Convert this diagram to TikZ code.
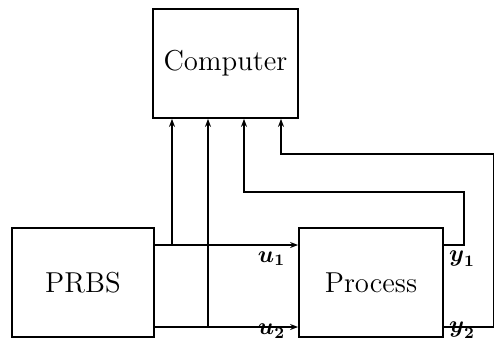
\documentclass[tikz,border=0pt]{standalone}
\usepackage{amsmath}
\usepackage{amssymb}
\usepackage{tikz}
\usetikzlibrary{arrows.meta}

\tikzset{
  blk/.style={draw, line width=0.9pt, minimum width=72pt, minimum height=54.5pt, font=\Large},
  sig/.style={line width=0.7pt},
  siglabel/.style={font=\large, inner sep=0pt}
}

\begin{document}
\begin{tikzpicture}[x=0.5pt, y=-0.5pt, >={Stealth[length=4pt,width=3pt]}]
\useasboundingbox (0,0) rectangle (494,339);
% blocks
\node[blk, minimum width=72.5pt] (comp) at (225.5,63.5) {Computer};
\node[blk, minimum width=71pt] (prbs) at (83,282.5) {PRBS};
\node[blk] (proc) at (371,282.5) {Process};
% signal levels
\coordinate (r1) at (0,245);
\coordinate (r2) at (0,327);
\coordinate (tap1) at (172,245);
\coordinate (tap2) at (208,327);
\coordinate (in3) at (244,0);
\coordinate (in4) at (281,0);
\coordinate (bend1) at (464,192);
\coordinate (bend2) at (493.5,154);
% inputs
\draw[sig, ->] (prbs.east |- r1) -- (proc.west |- r1);
\draw[sig, ->] (prbs.east |- r2) -- (proc.west |- r2);
\draw[sig, ->] (tap1) -- (tap1 |- comp.south);
\draw[sig, ->] (tap2) -- (tap2 |- comp.south);
% outputs fed back
\draw[sig, ->] (proc.east |- r1) -| (bend1) -| (in3 |- comp.south);
\draw[sig, ->] (proc.east |- r2) -| (bend2) -| (in4 |- comp.south);
% labels
\node[siglabel, anchor=north] (lu1) at (271.5,251) {$\boldsymbol{u}_{\mathbf{1}}$};
\node[siglabel, anchor=south] (lu2) at (271.5,338.5) {$\boldsymbol{u}_{\mathbf{2}}$};
\node[siglabel, anchor=north] (ly1) at (462,250) {$\boldsymbol{y}_{\mathbf{1}}$};
\node[siglabel, anchor=south] (ly2) at (462,338.5) {$\boldsymbol{y}_{\mathbf{2}}$};
\end{tikzpicture}
\end{document}
